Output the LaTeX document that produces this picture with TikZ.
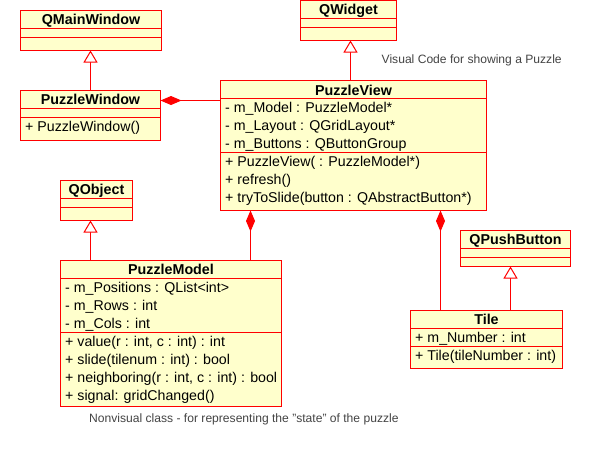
\documentclass[tikz,border=0pt]{standalone}
\usepackage{fontspec}
\setmainfont{Liberation Sans}
\usetikzlibrary{arrows.meta}
\definecolor{boxfill}{HTML}{FFFFCC}
\definecolor{notegray}{HTML}{444444}
\begin{document}
\begin{tikzpicture}[x=1pt,y=-1pt,
  umlbox/.style={draw=red,fill=boxfill,line width=1pt,inner sep=0pt,outer sep=0pt,anchor=north west,rectangle},
  sep/.style={draw=red,line width=1pt},
  ttl/.style={anchor=base,inner sep=0pt,font=\fontsize{14.3}{16}\selectfont\bfseries},
  mem/.style={anchor=base west,inner sep=0pt,font=\fontsize{14.2}{16}\selectfont},
  note/.style={anchor=base west,inner sep=0pt,text=notegray,font=\fontsize{12.1}{14}\selectfont},
  gen/.style={draw=red,line width=1pt,-{Triangle[length=12pt,width=14pt,fill=white]}},
  comp/.style={draw=red,line width=1pt,-{Diamond[length=21pt,width=9pt]}, red}
]
\useasboundingbox[fill=white] (0,0) rectangle (600,450);

% QMainWindow
\node[umlbox,minimum width=141pt,minimum height=40pt] (qmw) at (20.5,10.5) {};
\draw[sep] (20.5,28.5) -- (161.5,28.5) (20.5,37.5) -- (161.5,37.5);
\node[ttl] (qmwt) at (91,24) {QMainWindow};

% PuzzleWindow
\node[umlbox,minimum width=140pt,minimum height=50pt] (pw) at (20.5,90.5) {};
\draw[sep] (20.5,108.5) -- (160.5,108.5) (20.5,117.5) -- (160.5,117.5);
\node[ttl] (pwt) at (90.5,104.5) {PuzzleWindow};
\node[mem] (pwm1) at (25,131) {+ PuzzleWindow()};
\coordinate (pwline) at (0,100.5);

% QWidget
\node[umlbox,minimum width=96pt,minimum height=40pt] (qw) at (300.5,0.5) {};
\draw[sep] (300.5,18.5) -- (396.5,18.5) (300.5,27.5) -- (396.5,27.5);
\node[ttl] (qwt) at (348.5,14) {QWidget};

% PuzzleView
\node[umlbox,minimum width=266pt,minimum height=130pt] (pv) at (220.5,80.5) {};
\draw[sep] (220.5,98.5) -- (486.5,98.5) (220.5,152.5) -- (486.5,152.5);
\node[ttl] (pvt) at (353.5,95) {PuzzleView};
\node[mem] (pva1) at (225,112) {- m\_Model : PuzzleModel*};
\node[mem] (pva2) at (225,130) {- m\_Layout : QGridLayout*};
\node[mem] (pva3) at (225,148) {- m\_Buttons : QButtonGroup};
\node[mem] (pvm1) at (225,166) {+ PuzzleView( : PuzzleModel*)};
\node[mem] (pvm2) at (225,184) {+ refresh()};
\node[mem] (pvm3) at (225,202) {+ tryToSlide(button : QAbstractButton*)};

% QObject
\node[umlbox,minimum width=72pt,minimum height=40pt] (qo) at (60.5,180.5) {};
\draw[sep] (60.5,198.5) -- (132.5,198.5) (60.5,207.5) -- (132.5,207.5);
\node[ttl] (qot) at (96.5,194) {QObject};

% PuzzleModel
\node[umlbox,minimum width=221pt,minimum height=146pt] (pm) at (60.5,260.5) {};
\draw[sep] (60.5,278.5) -- (281.5,278.5) (60.5,332.5) -- (281.5,332.5);
\node[ttl] (pmt) at (171,274.5) {PuzzleModel};
\node[mem] (pma1) at (65,292) {- m\_Positions : QList<int>};
\node[mem] (pma2) at (65,310) {- m\_Rows : int};
\node[mem] (pma3) at (65,328) {- m\_Cols : int};
\node[mem] (pmm1) at (65,346) {+ value(r : int, c : int) : int};
\node[mem] (pmm2) at (65,364) {+ slide(tilenum : int) : bool};
\node[mem] (pmm3) at (65,382) {+ neighboring(r : int, c : int) : bool};
\node[mem] (pmm4) at (65,400) {+ signal: gridChanged()};

% QPushButton
\node[umlbox,minimum width=110pt,minimum height=36pt] (qpb) at (460.5,230.5) {};
\draw[sep] (460.5,248.5) -- (570.5,248.5) (460.5,257.5) -- (570.5,257.5);
\node[ttl] (qpbt) at (515.5,244) {QPushButton};

% Tile
\node[umlbox,minimum width=152pt,minimum height=58pt] (tile) at (410.5,310.5) {};
\draw[sep] (410.5,328.5) -- (562.5,328.5) (410.5,346.5) -- (562.5,346.5);
\node[ttl] (tilet) at (486.5,324) {Tile};
\node[mem] (tilea1) at (415,342) {+ m\_Number : int};
\node[mem] (tilem1) at (415,360) {+ Tile(tileNumber : int)};

% notes
\node[note] (n1) at (381.5,63) {Visual Code for showing a Puzzle};
\node[note] (n2) at (89,422.5) {Nonvisual class - for representing the "state" of the puzzle};

% connector x positions
\coordinate (x90) at (90.5,0);
\coordinate (x350) at (350.5,0);
\coordinate (x250) at (250.5,0);
\coordinate (x440) at (440.5,0);
\coordinate (x510) at (510.5,0);

% generalizations
\draw[gen] (x90 |- pw.north) -- (x90 |- qmw.south);
\draw[gen] (x350 |- pv.north) -- (x350 |- qw.south);
\draw[gen] (x90 |- pm.north) -- (x90 |- qo.south);
\draw[gen] (x510 |- tile.north) -- (x510 |- qpb.south);

% compositions
\draw[comp] (pwline -| pv.west) -- (pwline -| pw.east);
\draw[comp] (x250 |- pm.north) -- (x250 |- pv.south);
\draw[comp] (x440 |- tile.north) -- (x440 |- pv.south);
\end{tikzpicture}
\end{document}
